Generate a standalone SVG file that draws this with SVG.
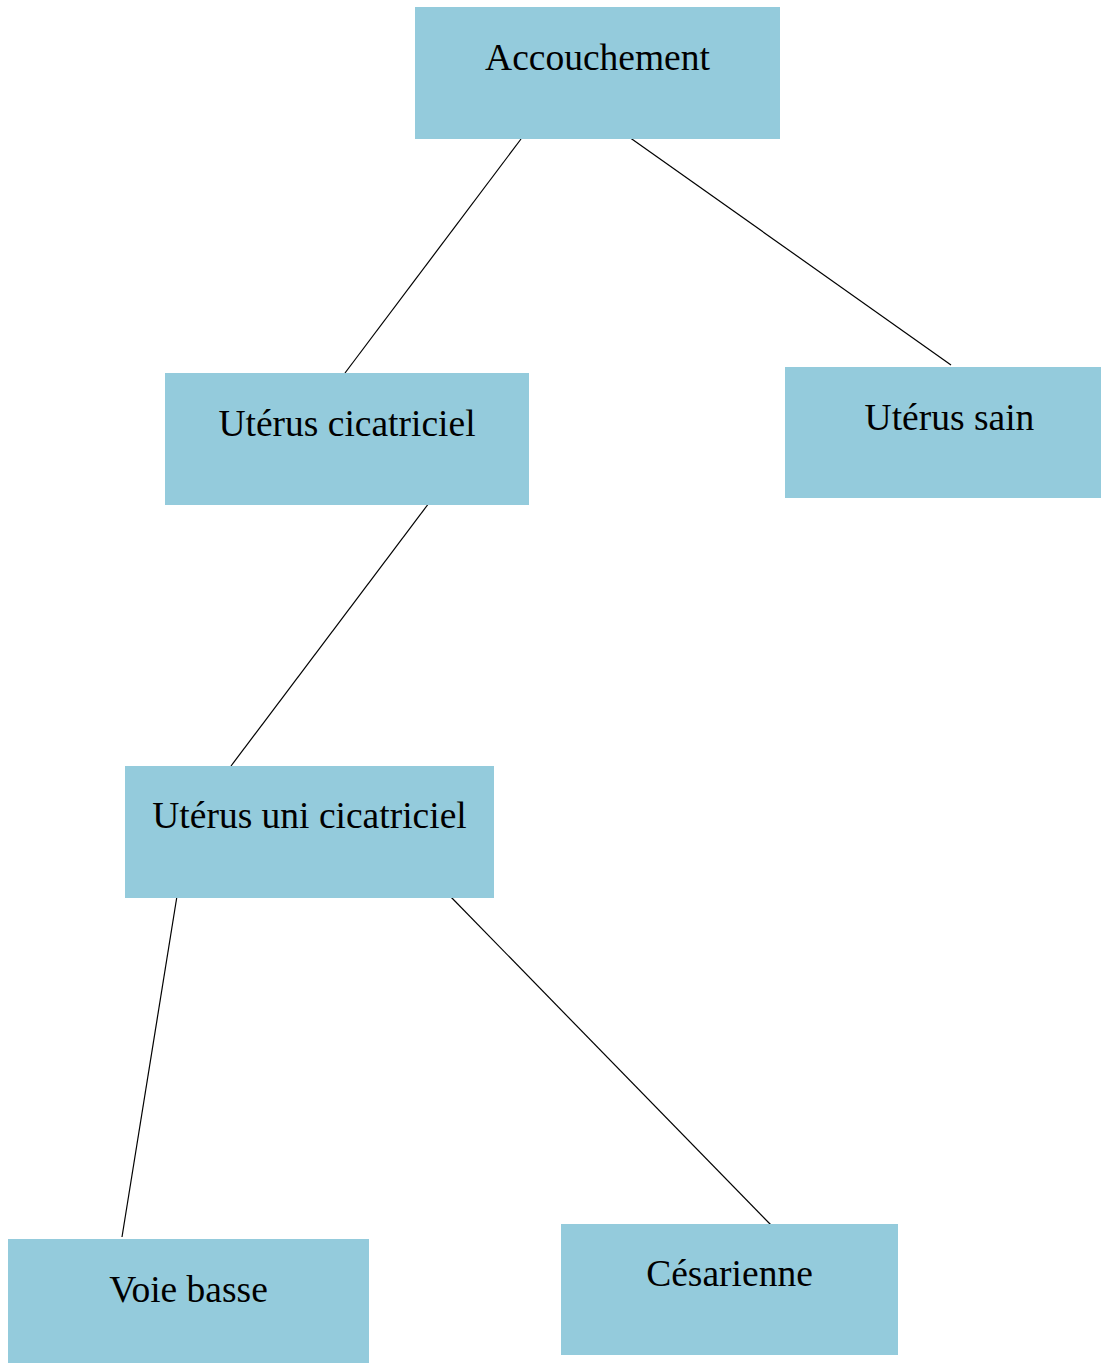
<svg xmlns="http://www.w3.org/2000/svg" width="1101" height="1363" viewBox="0 0 1101 1363">
<style>
.box{fill:#94cbdc}
.lbl{font-family:"Liberation Serif","Times New Roman",serif;font-size:37.5px;fill:#000;text-anchor:middle}
.edge{stroke:#000;stroke-width:1.2;fill:none}
</style>
<rect width="1101" height="1363" fill="#fff"/>
<g id="connectors">
<line class="edge" x1="521" y1="139" x2="345" y2="373"/>
<line class="edge" x1="629" y1="137" x2="951" y2="365"/>
<line class="edge" x1="429" y1="503" x2="231" y2="766"/>
<line class="edge" x1="177" y1="896" x2="122" y2="1237"/>
<line class="edge" x1="449" y1="895" x2="771" y2="1225"/>
</g>
<g id="n-accouchement"><rect class="box" x="415" y="7" width="365" height="132"/><text class="lbl" x="597.5" y="70">Accouchement</text></g>
<g id="n-uterus-cicatriciel"><rect class="box" x="165" y="373" width="364" height="132"/><text class="lbl" x="347" y="436">Utérus cicatriciel</text></g>
<g id="n-uterus-sain"><rect class="box" x="785" y="367" width="316" height="131"/><text class="lbl" x="949.5" y="430">Utérus sain</text></g>
<g id="n-uterus-uni"><rect class="box" x="125" y="766" width="369" height="132"/><text class="lbl" x="309.5" y="828">Utérus uni cicatriciel</text></g>
<g id="n-voie-basse"><rect class="box" x="8" y="1239" width="361" height="124"/><text class="lbl" x="188.5" y="1302">Voie basse</text></g>
<g id="n-cesarienne"><rect class="box" x="561" y="1224" width="337" height="131"/><text class="lbl" x="729.5" y="1286">Césarienne</text></g>
</svg>
